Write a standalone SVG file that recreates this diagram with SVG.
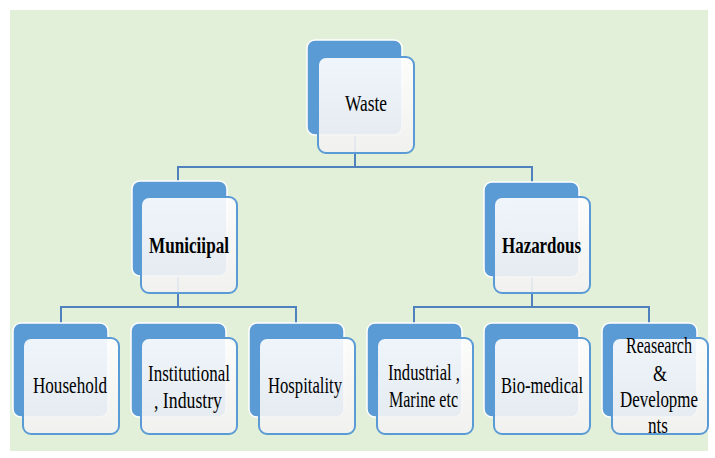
<svg xmlns="http://www.w3.org/2000/svg" width="715" height="458" viewBox="0 0 715 458">
<defs>
<linearGradient id="fg" x1="0" y1="0" x2="0" y2="1">
<stop offset="0" stop-color="#ffffff"/>
<stop offset="1" stop-color="#f2f2f2"/>
</linearGradient>
<style>
.back{fill:#5b9bd5;stroke:#ffffff;stroke-width:1.5}
.front{fill:url(#fg);fill-opacity:0.9;stroke:#5b9bd5;stroke-width:2}
.conn{fill:none;stroke:#4f81bd;stroke-width:2}
.t{font-family:"Liberation Serif","Times New Roman",serif;font-size:24px;fill:#000;text-anchor:middle}
.b{font-weight:bold}
</style>
</defs>
<rect x="10" y="10" width="698" height="441" fill="#e2efd9"/>
<g id="connectors" class="conn">
<path d="M355,135 V167 M178,181 V167 H532 V182"/>
<path d="M178,276 V307 M61,323 V307 H296 V323"/>
<path d="M532,277 V307 M414,323 V307 H649 V323"/>
</g>
<g id="waste">
<rect class="back" x="307" y="40" width="95" height="95" rx="8"/>
<rect class="front" x="318" y="57" width="96" height="96" rx="8"/>
<text class="t" x="366" y="111" textLength="42" lengthAdjust="spacingAndGlyphs">Waste</text>
</g>
<g id="municipal">
<rect class="back" x="132" y="181" width="95" height="95" rx="8"/>
<rect class="front" x="141" y="197" width="96" height="96" rx="8"/>
<text class="t b" x="189" y="253" textLength="80" lengthAdjust="spacingAndGlyphs">Municiipal</text>
</g>
<g id="hazardous">
<rect class="back" x="484" y="182" width="95" height="95" rx="8"/>
<rect class="front" x="494" y="197" width="96" height="96" rx="8"/>
<text class="t b" x="541.5" y="253" textLength="79" lengthAdjust="spacingAndGlyphs">Hazardous</text>
</g>
<g id="household">
<rect class="back" x="13" y="323" width="95" height="94" rx="8"/>
<rect class="front" x="23" y="338" width="96" height="96" rx="8"/>
<text class="t" x="70" y="393" textLength="74" lengthAdjust="spacingAndGlyphs">Household</text>
</g>
<g id="institutional">
<rect class="back" x="131" y="323" width="95" height="94" rx="8"/>
<rect class="front" x="141" y="338" width="96" height="96" rx="8"/>
<text class="t" x="189" y="381" textLength="82" lengthAdjust="spacingAndGlyphs">Institutional</text>
<text class="t" x="188" y="408" textLength="68" lengthAdjust="spacingAndGlyphs">, Industry</text>
</g>
<g id="hospitality">
<rect class="back" x="249" y="323" width="95" height="94" rx="8"/>
<rect class="front" x="259" y="338" width="96" height="96" rx="8"/>
<text class="t" x="305" y="393" textLength="74" lengthAdjust="spacingAndGlyphs">Hospitality</text>
</g>
<g id="industrial">
<rect class="back" x="367" y="323" width="95" height="94" rx="8"/>
<rect class="front" x="377" y="338" width="96" height="96" rx="8"/>
<text class="t" x="424" y="380" textLength="72" lengthAdjust="spacingAndGlyphs">Industrial ,</text>
<text class="t" x="423.5" y="407" textLength="69" lengthAdjust="spacingAndGlyphs">Marine etc</text>
</g>
<g id="biomedical">
<rect class="back" x="484" y="323" width="95" height="94" rx="8"/>
<rect class="front" x="494" y="338" width="96" height="96" rx="8"/>
<text class="t" x="542" y="393" textLength="82" lengthAdjust="spacingAndGlyphs">Bio-medical</text>
</g>
<g id="research">
<rect class="back" x="602" y="323" width="95" height="94" rx="8"/>
<rect class="front" x="612" y="338" width="96" height="96" rx="8"/>
<text class="t" x="659" y="353" textLength="66" lengthAdjust="spacingAndGlyphs">Reasearch</text>
<text class="t" x="660" y="381" textLength="14" lengthAdjust="spacingAndGlyphs">&amp;</text>
<text class="t" x="659" y="407" textLength="78" lengthAdjust="spacingAndGlyphs">Developme</text>
<text class="t" x="658" y="433" textLength="20" lengthAdjust="spacingAndGlyphs">nts</text>
</g>
</svg>
